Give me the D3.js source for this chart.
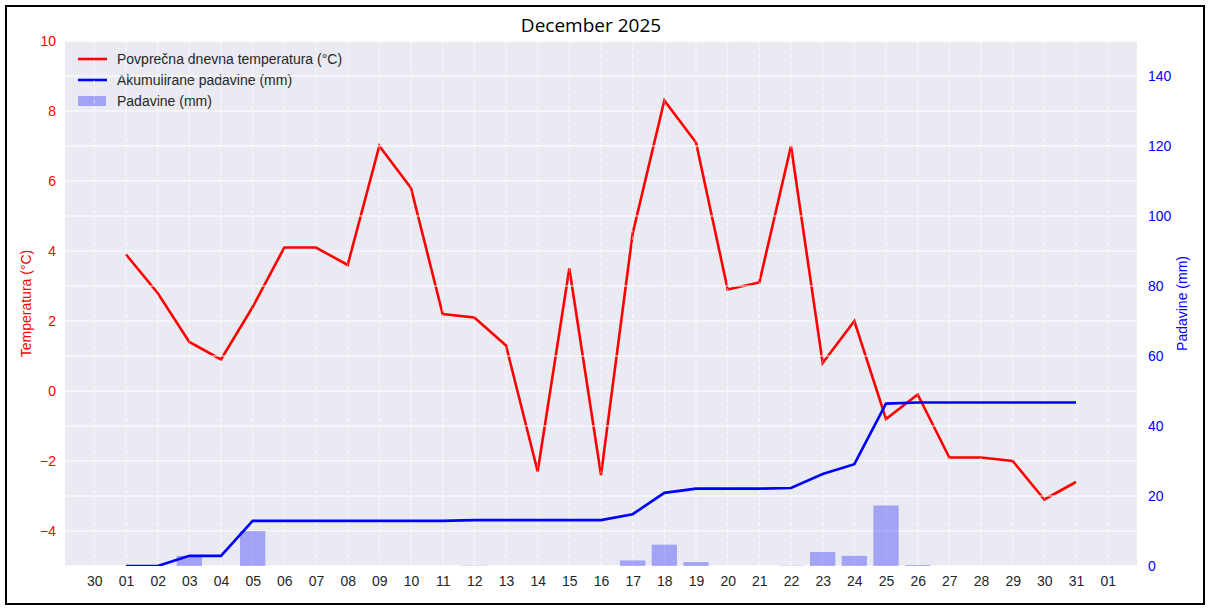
<!DOCTYPE html>
<html>
<head>
<meta charset="utf-8">
<script src="https://cdn.jsdelivr.net/npm/d3@7"></script>
<style>
  html, body { margin: 0; padding: 0; background: #fff; }
  svg { display: block; }
</style>
</head>
<body>
<svg id="chart" width="1210" height="610"></svg>
<script>
// ---------- data ----------
const title = "December 2025";
const days = [1,2,3,4,5,6,7,8,9,10,11,12,13,14,15,16,17,18,19,20,21,22,23,24,25,26,27,28,29,30,31];
const temperature = [3.9,2.8,1.4,0.9,2.4,4.1,4.1,3.6,7.0,5.8,2.2,2.1,1.3,-2.3,3.5,-2.4,4.5,8.3,7.1,2.9,3.1,7.0,0.8,2.0,-0.8,-0.1,-1.9,-1.9,-2.0,-3.1,-2.6];
const precipitation = [0,0,2.9,0,10.0,0,0,0,0,0,0,0.1,0,0,0,0,1.6,6.1,1.1,0,0,0.1,4.0,2.9,17.3,0.3,0,0,0,0,0];
const accumulated = [0,0,2.9,2.9,12.9,12.9,12.9,12.9,12.9,12.9,12.9,13.1,13.1,13.1,13.1,13.1,14.8,20.9,22.1,22.1,22.1,22.3,26.3,29.1,46.4,46.7,46.7,46.7,46.7,46.7,46.7];
const tempTicks = [-4,-2,0,2,4,6,8,10];
const precipTicks = [0,20,40,60,80,100,120,140];
const legendLabels = ["Povprečna dnevna temperatura (°C)", "Akumulirane padavine (mm)", "Padavine (mm)"];
const leftAxisLabel = "Temperatura (°C)";
const rightAxisLabel = "Padavine (mm)";

// ---------- layout ----------
const W = 1210, H = 610;
const L = 65, R = 1137, T = 41, B = 566;
const DAY = 86400000;
const dates = days.map(d => new Date(Date.UTC(2025, 11, d)));
const pad = 1.926 * DAY;

const x = d3.scaleUtc().domain([+dates[0] - pad, +dates[dates.length - 1] + pad]).range([L, R]);
const yL = d3.scaleLinear().domain([-5, 10]).range([B, T]);
const yR = d3.scaleLinear().domain([0, 150]).range([B, T]);
const xTicks = d3.utcDay.range(new Date(Date.UTC(2025, 10, 30)), new Date(Date.UTC(2026, 0, 2)));

const FONT = "'Liberation Sans', Arial, sans-serif";
const svg = d3.select("#chart");

svg.append("rect").attr("x", 0).attr("y", 0).attr("width", W).attr("height", H).attr("fill", "#fff");

// plot background
svg.append("rect").attr("x", L).attr("y", T).attr("width", R - L).attr("height", B - T).attr("fill", "#EAEAF2");

const clip = svg.append("defs").append("clipPath").attr("id", "plotclip");
clip.append("rect").attr("x", L).attr("y", T).attr("width", R - L).attr("height", B - T);

// ---- ax1 layer ----
const ax1 = svg.append("g").attr("clip-path", "url(#plotclip)");
ax1.selectAll("line.hgl").data(tempTicks.concat([-5, 10])).join("line")
  .attr("x1", L).attr("x2", R)
  .attr("y1", d => yL(d)).attr("y2", d => yL(d))
  .attr("stroke", "#fff").attr("stroke-width", 1.1);
ax1.selectAll("line.vgl").data(xTicks).join("line")
  .attr("x1", d => x(d)).attr("x2", d => x(d))
  .attr("y1", T).attr("y2", B)
  .attr("stroke", "#fff").attr("stroke-opacity", 0.7).attr("stroke-width", 0.9)
  .attr("stroke-dasharray", "4,2.5");

const tempLine = d3.line().x((d, i) => x(dates[i])).y(d => yL(d));
ax1.append("path").datum(temperature)
  .attr("d", tempLine).attr("fill", "none").attr("stroke", "#ff0000")
  .attr("stroke-width", 2.6).attr("stroke-linejoin", "miter");

// legend
const lg = svg.append("g");
const legY = [59, 80, 101];
lg.append("line").attr("x1", 78).attr("x2", 107).attr("y1", legY[0]).attr("y2", legY[0])
  .attr("stroke", "#ff0000").attr("stroke-width", 2.6);
lg.append("line").attr("x1", 78).attr("x2", 107).attr("y1", legY[1]).attr("y2", legY[1])
  .attr("stroke", "#0000ff").attr("stroke-width", 2.6);
lg.append("rect").attr("x", 78).attr("y", legY[2] - 5).attr("width", 28).attr("height", 10)
  .attr("fill", "#0000ff").attr("fill-opacity", 0.3);
lg.selectAll("text").data(legendLabels).join("text")
  .attr("x", 117).attr("y", (d, i) => legY[i] + 5)
  .attr("font-family", FONT).attr("font-size", 14).attr("fill", "#262626")
  .text(d => d);

// ---- ax2 layer ----
const ax2 = svg.append("g").attr("clip-path", "url(#plotclip)");
ax2.selectAll("line.hgr").data(precipTicks).join("line")
  .attr("x1", L).attr("x2", R)
  .attr("y1", d => yR(d)).attr("y2", d => yR(d))
  .attr("stroke", "#fff").attr("stroke-width", 1.1);
ax2.selectAll("line.vgr").data(xTicks).join("line")
  .attr("x1", d => x(d)).attr("x2", d => x(d))
  .attr("y1", T).attr("y2", B)
  .attr("stroke", "#fff").attr("stroke-opacity", 0.5).attr("stroke-width", 0.9)
  .attr("stroke-dasharray", "4,2.5");

const bw = x(new Date(+dates[0] + 0.8 * DAY)) - x(dates[0]);
ax2.selectAll("rect.bar").data(precipitation).join("rect")
  .attr("x", (d, i) => x(dates[i]) - bw / 2)
  .attr("y", d => yR(d))
  .attr("width", bw)
  .attr("height", d => yR(0) - yR(d))
  .attr("fill", "#0000ff").attr("fill-opacity", 0.3);

const accLine = d3.line().x((d, i) => x(dates[i])).y(d => yR(d));
ax2.append("path").datum(accumulated)
  .attr("d", accLine).attr("fill", "none").attr("stroke", "#0000ff")
  .attr("stroke-width", 2.6).attr("stroke-linejoin", "miter");

// ---- axes ----
const xAxis = d3.axisBottom(x).tickValues(xTicks).tickFormat(d3.utcFormat("%d")).tickSize(0).tickPadding(10);
const gx = svg.append("g").attr("transform", `translate(0,${B})`).call(xAxis);
gx.select(".domain").remove();
gx.selectAll("text").attr("font-family", FONT).attr("font-size", 14).attr("fill", "#262626");

const leftAxis = d3.axisLeft(yL).tickValues(tempTicks).tickFormat(d => d3.format("d")(d).replace("-", "−")).tickSize(0).tickPadding(9);
const gl = svg.append("g").attr("transform", `translate(${L},0)`).call(leftAxis);
gl.select(".domain").remove();
gl.selectAll("text").attr("font-family", FONT).attr("font-size", 14).attr("fill", "#ff0000");

const rightAxis = d3.axisRight(yR).tickValues(precipTicks).tickFormat(d3.format("d")).tickSize(0).tickPadding(11);
const gr = svg.append("g").attr("transform", `translate(${R},0)`).call(rightAxis);
gr.select(".domain").remove();
gr.selectAll("text").attr("font-family", FONT).attr("font-size", 14).attr("fill", "#0000ff");

// axis labels
svg.append("text")
  .attr("transform", `translate(31,${(T + B) / 2}) rotate(-90)`)
  .attr("text-anchor", "middle")
  .attr("font-family", FONT).attr("font-size", 14).attr("fill", "#ff0000")
  .text(leftAxisLabel);
svg.append("text")
  .attr("transform", `translate(1187,${(T + B) / 2}) rotate(-90)`)
  .attr("text-anchor", "middle")
  .attr("font-family", FONT).attr("font-size", 14).attr("fill", "#0000ff")
  .text(rightAxisLabel);

// title
svg.append("text")
  .attr("x", 591).attr("y", 32)
  .attr("text-anchor", "middle")
  .attr("font-family", "'Open Sans', 'Noto Sans', sans-serif").attr("font-size", 19).attr("font-weight", 500)
  .attr("fill", "#000")
  .text(title);

// outer frame
svg.append("rect").attr("x", 6).attr("y", 6).attr("width", W - 12).attr("height", H - 12)
  .attr("fill", "none").attr("stroke", "#000").attr("stroke-width", 2);
</script>
</body>
</html>
